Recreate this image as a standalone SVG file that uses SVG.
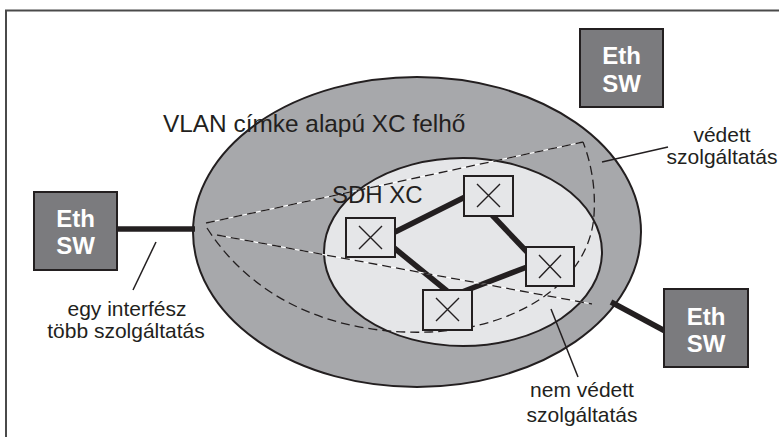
<svg xmlns="http://www.w3.org/2000/svg" width="779" height="437" viewBox="0 0 779 437">
<style>
.lbl{font-family:"Liberation Sans",Arial,sans-serif;fill:#231f20}
.sw rect{fill:#7b7b7e;stroke:#231f20;stroke-width:2}
.sw text{font-family:"Liberation Sans",Arial,sans-serif;font-weight:bold;font-size:24px;fill:#ffffff;text-anchor:middle}
.xc rect{fill:#e5e6e8;stroke:#231f20;stroke-width:2}
.xc path{stroke:#231f20;stroke-width:1.4;fill:none}
.thick{stroke:#231f20;stroke-width:5.5;fill:none}
.dash{stroke:#231f20;stroke-width:1.3;stroke-dasharray:9 5;fill:none}
.under{stroke:#ffffff;stroke-width:1.2;fill:none}
.ptr{stroke:#231f20;stroke-width:1.5;fill:none}
</style>
<rect width="779" height="437" fill="#ffffff"/>
<path d="M6,437 V10.5 H779" fill="none" stroke="#4a4a4a" stroke-width="2"/>

<g id="vlan-cloud">
<ellipse cx="417" cy="232" rx="224" ry="155" fill="#a7a8ab" stroke="#231f20" stroke-width="2"/>
</g>
<g id="sdh-cloud">
<ellipse cx="463" cy="252" rx="139" ry="94" fill="#e5e6e8" stroke="#231f20" stroke-width="2"/>
</g>

<g id="connectors">
<line class="thick" x1="118" y1="229" x2="195" y2="229"/>
<line class="thick" x1="611" y1="302" x2="665" y2="331"/>
<line class="thick" x1="395" y1="232" x2="465" y2="197"/>
<line class="thick" x1="393" y1="247" x2="447" y2="291"/>
<line class="thick" x1="492" y1="215" x2="528" y2="253"/>
<line class="thick" x1="527" y1="267" x2="462" y2="292"/>
<line class="under" x1="206" y1="223" x2="583" y2="142"/>
<line class="under" x1="217" y1="235" x2="592" y2="304"/>
<line class="dash" x1="206" y1="223" x2="583" y2="142"/>
<line class="dash" x1="217" y1="235" x2="592" y2="304"/>
<path class="dash" d="M207,228 C260,310 350,335 430,332 C520,328 590,280 594,215 C596,185 590,160 583,142"/>
<line class="ptr" x1="602" y1="162" x2="668" y2="147"/>
<line class="ptr" x1="156" y1="242" x2="133" y2="290"/>
<line class="ptr" x1="551" y1="309" x2="578" y2="377"/>
</g>

<g id="xc-a" class="xc"><rect x="346" y="218" width="49" height="39"/><path d="M359,226 L382,249 M382,226 L359,249"/></g>
<g id="xc-b" class="xc"><rect x="464" y="176" width="49" height="40"/><path d="M477,184 L500,207 M500,184 L477,207"/></g>
<g id="xc-c" class="xc"><rect x="526" y="247" width="48" height="39"/><path d="M539,255 L561,278 M561,255 L539,278"/></g>
<g id="xc-d" class="xc"><rect x="423" y="290" width="49" height="40"/><path d="M436,298 L459,321 M459,298 L436,321"/></g>

<g id="sw-top" class="sw"><rect x="580" y="29" width="83" height="78"/><text x="621.5" y="64">Eth</text><text x="621.5" y="92">SW</text></g>
<g id="sw-left" class="sw"><rect x="34" y="192" width="83" height="78"/><text x="75.5" y="227">Eth</text><text x="75.5" y="254">SW</text></g>
<g id="sw-right" class="sw"><rect x="664" y="289" width="84" height="78"/><text x="706" y="325">Eth</text><text x="706" y="352">SW</text></g>

<g id="labels">
<text class="lbl" x="163" y="132" font-size="24.4">VLAN címke alapú XC felhő</text>
<text class="lbl" x="332" y="203" font-size="24">SDH XC</text>
<text class="lbl" x="722" y="142" font-size="21" text-anchor="middle">védett</text>
<text class="lbl" x="722" y="164" font-size="21" text-anchor="middle">szolgáltatás</text>
<text class="lbl" x="127" y="316" font-size="21" text-anchor="middle">egy interfész</text>
<text class="lbl" x="126" y="338" font-size="21" text-anchor="middle">több szolgáltatás</text>
<text class="lbl" x="582" y="397" font-size="21" text-anchor="middle">nem védett</text>
<text class="lbl" x="582" y="422" font-size="21" text-anchor="middle">szolgáltatás</text>
</g>
</svg>
